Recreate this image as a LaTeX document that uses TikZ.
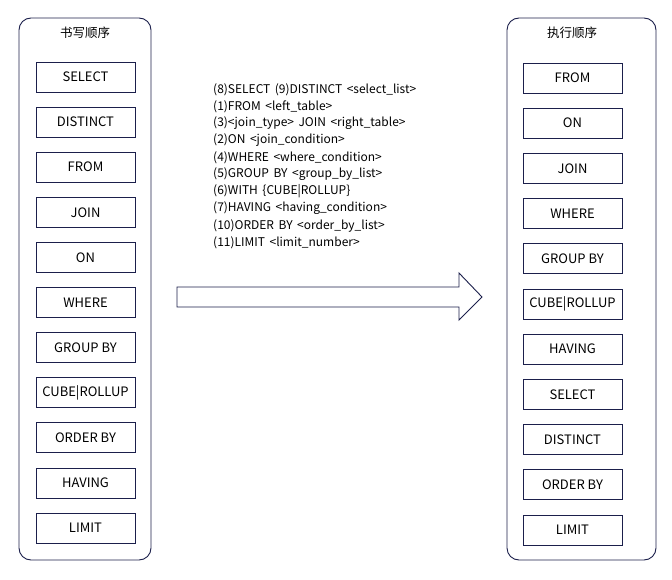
\documentclass[tikz,border=0pt]{standalone}
\usepackage{fontspec}
\setmainfont{Noto Sans CJK SC}
\usetikzlibrary{positioning}
\definecolor{edge}{HTML}{1B1F4B}
\newcommand\widesp{\spaceskip=4.5pt plus 1pt\relax}
\begin{document}
\begin{tikzpicture}[x=1pt,y=-1pt,
  panel/.style={draw=edge,line width=0.9pt,rounded corners=12pt},
  stepbox/.style={draw=edge,line width=0.8pt,minimum width=99pt,minimum height=30pt,inner sep=0pt,font=\fontsize{13}{15}\selectfont},
  ttl/.style={font=\fontsize{12.5}{14}\selectfont},
  sqlline/.style={anchor=west,inner sep=0pt,font=\fontsize{12}{14}\selectfont}]
\useasboundingbox (0,0) rectangle (672,580);
% left panel
\draw[panel] (19,18) rectangle (151,560);
\node[ttl] (tl) at (85,33) {书写顺序};
\foreach \t [count=\i] in {SELECT,DISTINCT,FROM,JOIN,ON,WHERE,GROUP BY,CUBE|ROLLUP,ORDER BY,HAVING,LIMIT}
  \node[stepbox] (l\i) at (85.5,{77+(\i-1)*45.1}) {\t};
% right panel
\draw[panel] (507,18) rectangle (656,560);
\node[ttl] (tr) at (572,33) {执行顺序};
\foreach \t [count=\i] in {FROM,ON,JOIN,WHERE,GROUP BY,CUBE|ROLLUP,HAVING,SELECT,DISTINCT,ORDER BY,LIMIT}
  \node[stepbox] (r\i) at (572.5,{78+(\i-1)*45.2}) {\t};
% text
\foreach \t [count=\i] in {(8)SELECT (9)DISTINCT <select\_list>,(1)FROM <left\_table>,(3)<join\_type> JOIN <right\_table>,(2)ON <join\_condition>,(4)WHERE <where\_condition>,(5)GROUP BY <group\_by\_list>,(6)WITH \{CUBE|ROLLUP\},(7)HAVING <having\_condition>,(10)ORDER BY <order\_by\_list>,(11)LIMIT <limit\_number>}
  \node[sqlline] (s\i) at (213,{89.5+(\i-1)*17}) {\widesp\t};
% arrow
\draw[draw=edge,line width=0.9pt,fill=white] (177,287) -- (459,287) -- (459,273) -- (482,297) -- (459,320) -- (459,307) -- (177,307) -- cycle;
\end{tikzpicture}
\end{document}
